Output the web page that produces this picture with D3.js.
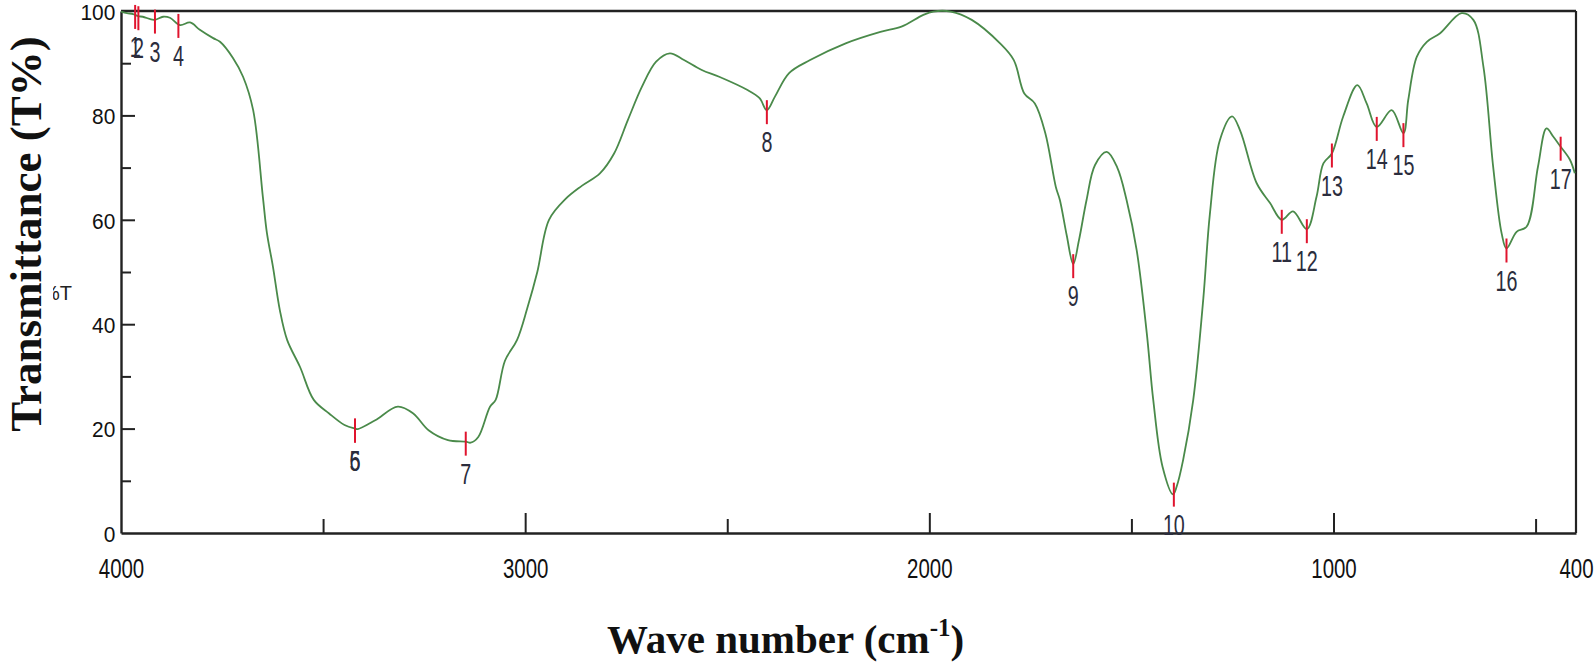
<!DOCTYPE html>
<html><head><meta charset="utf-8">
<script src="https://cdn.jsdelivr.net/npm/d3@7"></script>
<style>body{margin:0;background:#fff;} svg{display:block;}</style>
</head><body><svg id="c" width="1594" height="662"></svg>
<script>
// ---- data ----
const wavenumbers = [4000,3985,3970,3957,3946,3918,3896,3879,3854,3829,3805,3772,3755,3723,3698,3673,3649,3639,3624,3607,3589,3557,3523,3485,3447,3421,3414,3371,3315,3277,3239,3191,3147,3135,3116,3087,3073,3050,3020,2995,2970,2941,2900,2860,2815,2780,2746,2711,2676,2642,2607,2563,2520,2451,2420,2402,2382,2347,2295,2207,2121,2069,2016,1990,1947,1895,1825,1791,1765,1739,1713,1687,1677,1660,1644,1630,1611,1590,1561,1535,1512,1487,1462,1446,1423,1397,1388,1372,1347,1322,1306,1281,1251,1231,1190,1157,1128,1100,1066,1042,1025,1004,976,941,918,893,856,827,815,794,769,737,683,654,629,605,584,572,547,522,494,473,456,438,415,403];
const transmittance = [99.9,99.6,99.4,99.0,98.9,98.3,98.9,98.7,97.3,97.8,96.4,94.8,94.1,91.0,87.4,81.0,64.4,57.5,51.0,42.7,37.0,31.8,25.5,22.9,20.7,20.0,19.9,21.6,24.2,22.9,19.7,17.8,17.5,17.3,18.4,24.2,25.5,33,37,43,50,60,64,66.5,68.9,72.7,79.1,85.5,90.3,91.9,90.6,88.7,87.4,84.9,83.3,81.0,83.6,88.1,90.6,93.8,96.0,97.0,99.2,99.9,99.9,98.3,93.8,90.6,84.2,82.3,76.6,66.3,63.8,57,51.5,56,63.8,70.5,73.0,70.0,63.8,54.2,38.3,25.5,12.7,7.4,8.9,14,25.5,45,61,75.3,79.8,77.1,67.0,63.2,60.0,61.6,58.2,64.4,70.8,72.7,79.8,85.8,82.3,77.8,81.0,76.6,83.0,91.2,94.1,95.7,99.6,98.3,89.3,70.2,57.4,54.5,57.7,58.7,70.2,77.5,75.9,74.0,71.5,68.9];
const peakWaves  = [3965,3957,3916,3858,3421,3421,3147,2402,1644,1395,1128,1066,1004,893,827,572,438];
const peakLabels = ["1","2","3","4","5","6","7","8","9","10","11","12","13","14","15","16","17"];
const xLabelTicks = [4000,3000,2000,1000,400];
const xMajorTicks = [3000,2000,1000];
const xMinorTicks = [3500,2500,1500,500];
const yLabelTicks = [0,20,40,60,80,100];
const yMajorTicks = [20,40,60,80];
const yMinorTicks = [10,30,50,70,90];
const xTitleText = "Wave number (cm";
const xTitleSup = "-1";
const yTitleText = "Transmittance (T%)";
const strayLabel = "%T";

// ---- layout ----
const pLeft = 121, pTop = 11, pRight = 1576, pBottom = 533;
const iw = pRight - pLeft, ih = pBottom - pTop;
const svg = d3.select("#c");
const g = svg.append("g").attr("transform", `translate(${pLeft},${pTop})`);
const x = d3.scaleLinear().domain([4000, 400]).range([0, iw]);
const y = d3.scaleLinear().domain([0, 100]).range([ih, 0]);

const pts = wavenumbers.map((w, i) => [w, transmittance[i]]);
function tAt(w) {
  for (let i = 0; i < pts.length - 1; i++) {
    const a = pts[i], b = pts[i + 1];
    if (w <= a[0] && w >= b[0]) return a[1] + (b[1] - a[1]) * (a[0] - w) / (a[0] - b[0]);
  }
  return pts[pts.length - 1][1];
}

// frame (top/right)
g.append("line").attr("x1", 0).attr("x2", iw).attr("y1", 0).attr("y2", 0)
  .attr("stroke", "#222").attr("stroke-width", 2.4);
g.append("line").attr("x1", iw).attr("x2", iw).attr("y1", 0).attr("y2", ih)
  .attr("stroke", "#222").attr("stroke-width", 2.2);

// x axis: labels
const fontSans = "'Liberation Sans', Arial, sans-serif";
const xAx = g.append("g").attr("transform", `translate(0,${ih})`)
  .call(d3.axisBottom(x).tickValues(xLabelTicks).tickSize(0).tickFormat(d3.format("d")));
xAx.select(".domain").attr("stroke", "#222").attr("stroke-width", 2.4);
xAx.selectAll("text").attr("y", 45).attr("dy", 0)
  .attr("font-family", fontSans).attr("font-size", 28).attr("fill", "#111")
  .attr("transform", "scale(0.73,1)");
// x major / minor inward ticks
g.append("g").attr("transform", `translate(0,${ih})`)
  .call(d3.axisBottom(x).tickValues(xMajorTicks).tickSize(-20).tickFormat(""))
  .call(a => { a.select(".domain").remove(); a.selectAll("line").attr("stroke", "#222").attr("stroke-width", 2); });
g.append("g").attr("transform", `translate(0,${ih})`)
  .call(d3.axisBottom(x).tickValues(xMinorTicks).tickSize(-14).tickFormat(""))
  .call(a => { a.select(".domain").remove(); a.selectAll("line").attr("stroke", "#222").attr("stroke-width", 2); });

// y axis
const yAx = g.append("g")
  .call(d3.axisLeft(y).tickValues(yLabelTicks).tickSize(0).tickPadding(6).tickFormat(d3.format("d")));
yAx.select(".domain").attr("stroke", "#222").attr("stroke-width", 2.4);
yAx.selectAll("text").attr("font-family", fontSans).attr("font-size", 22).attr("fill", "#111")
  .attr("dy", "0.38em").attr("transform", "scale(0.95,1)");
g.append("g")
  .call(d3.axisLeft(y).tickValues(yMajorTicks).tickSize(-14).tickFormat(""))
  .call(a => { a.select(".domain").remove(); a.selectAll("line").attr("stroke", "#222").attr("stroke-width", 2); });
g.append("g")
  .call(d3.axisLeft(y).tickValues(yMinorTicks).tickSize(-10).tickFormat(""))
  .call(a => { a.select(".domain").remove(); a.selectAll("line").attr("stroke", "#222").attr("stroke-width", 2); });

// spectrum line
const line = d3.line().x(d => x(d[0])).y(d => y(d[1])).curve(d3.curveCatmullRom.alpha(0.5));
g.append("path").datum(pts).attr("d", line)
  .attr("fill", "none").attr("stroke", "#4a8a4a").attr("stroke-width", 1.8)
  .attr("stroke-linejoin", "round");

// peak markers
const pk = g.append("g");
peakWaves.forEach((w, i) => {
  const px = x(w), py = y(tAt(w));
  pk.append("line").attr("x1", px).attr("x2", px).attr("y1", py - 10).attr("y2", py + 14)
    .attr("stroke", "#e0142e").attr("stroke-width", 2);
  pk.append("g").attr("transform", `translate(${px},${py + 42})`)
    .append("text").attr("text-anchor", "middle").attr("transform", "scale(0.68,1)")
    .attr("font-family", fontSans).attr("font-size", 29).attr("fill", "#2b2d3d")
    .text(peakLabels[i]);
});

// stray partially hidden "%T" label
svg.append("clipPath").attr("id", "strayClip").append("rect")
  .attr("x", 53).attr("y", 270).attr("width", 40).attr("height", 40);
svg.append("text").attr("clip-path", "url(#strayClip)")
  .attr("x", 72).attr("y", 300).attr("text-anchor", "end")
  .attr("font-family", fontSans).attr("font-size", 20).attr("fill", "#222")
  .text(strayLabel);

// axis titles
const fontSerif = "'Liberation Serif', 'Times New Roman', serif";
const xt = svg.append("text").attr("x", 607).attr("y", 653)
  .attr("font-family", fontSerif).attr("font-weight", "bold").attr("font-size", 41).attr("fill", "#111");
xt.append("tspan").text(xTitleText);
xt.append("tspan").attr("font-size", 25).attr("dy", -17).text(xTitleSup);
xt.append("tspan").attr("dy", 17).text(")");

svg.append("text").attr("transform", "translate(41,234) rotate(-90)")
  .attr("text-anchor", "middle")
  .attr("font-family", fontSerif).attr("font-weight", "bold").attr("font-size", 45).attr("fill", "#111")
  .text(yTitleText);
</script>
</body></html>
